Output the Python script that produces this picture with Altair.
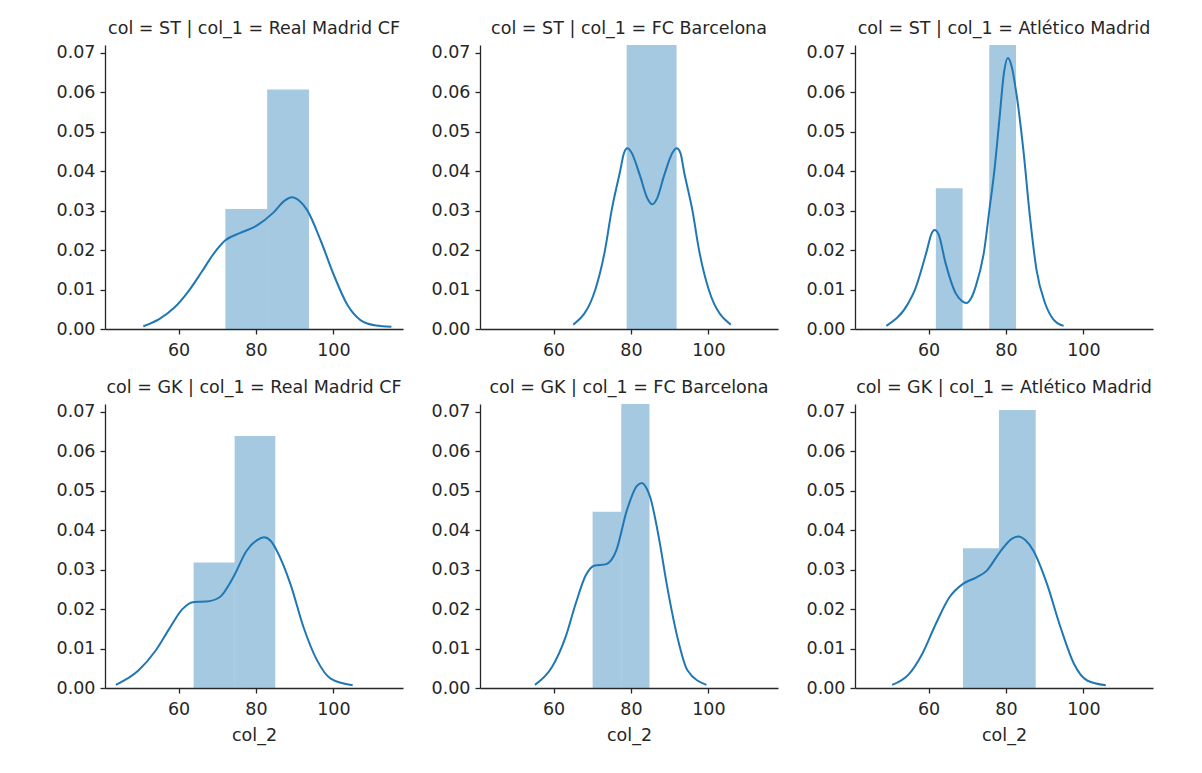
import altair as alt
import pandas as pd

# ---------------- data ----------------
POSITIONS = ["ST", "ST", "ST", "GK", "GK", "GK"]
CLUBS = ["Real Madrid CF", "FC Barcelona", "Atlético Madrid",
         "Real Madrid CF", "FC Barcelona", "Atlético Madrid"]

# histogram bin edges and densities (col_2)
st_rm_edges = [72.1, 82.9, 93.7]
st_rm_dens = [0.0304, 0.0607]
st_fcb_edges = [78.9, 91.8]
st_fcb_dens = [0.0775]
st_atm_edges = [61.9, 68.8, 75.7, 82.6]
st_atm_dens = [0.0357, 0.0, 0.1087]
gk_rm_edges = [63.9, 74.5, 85.0]
gk_rm_dens = [0.0318, 0.0639]
gk_fcb_edges = [70.1, 77.5, 84.8]
gk_fcb_dens = [0.0447, 0.0907]
gk_atm_edges = [68.9, 78.2, 87.7]
gk_atm_dens = [0.0354, 0.0705]

# KDE curve points
st_rm_kx = [50.9, 55.0, 59.0, 62.5, 66.0, 69.0, 72.1, 75.8, 80.2, 84.5, 87.5, 89.3, 91.2, 93.2, 96.7, 100.2, 103.7, 107.1, 111.0, 115.0]
st_rm_ky = [0.0007, 0.0025, 0.0055, 0.0095, 0.0145, 0.0190, 0.0225, 0.0243, 0.0262, 0.0295, 0.0326, 0.0334, 0.0325, 0.0302, 0.0225, 0.0135, 0.0060, 0.0022, 0.0009, 0.0006]
st_fcb_kx = [65.1, 70.8, 73.3, 75.0, 77.2, 78.2, 79.1, 80.1, 82.3, 84.3, 85.5, 86.7, 88.6, 90.8, 91.8, 92.8, 93.7, 95.9, 97.6, 100.1, 105.8]
st_fcb_ky = [0.0011, 0.0100, 0.0200, 0.0300, 0.0400, 0.0446, 0.0458, 0.0448, 0.0390, 0.0330, 0.0316, 0.0330, 0.0390, 0.0448, 0.0458, 0.0446, 0.0400, 0.0300, 0.0200, 0.0100, 0.0011]
st_atm_kx = [49.1, 54.8, 56.5, 59.6, 60.7, 61.6, 62.6, 64.4, 67.0, 68.6, 69.8, 71.0, 72.2, 74.4, 75.7, 77.0, 78.3, 79.5, 80.5, 81.5, 82.7, 84.5, 86.2, 87.9, 90.1, 92.3, 94.9]
st_atm_ky = [0.0008, 0.0066, 0.0100, 0.0200, 0.0240, 0.0251, 0.0240, 0.0167, 0.0091, 0.0071, 0.0066, 0.0078, 0.0108, 0.0200, 0.0300, 0.0400, 0.0530, 0.0650, 0.0687, 0.0665, 0.0597, 0.0454, 0.0285, 0.0150, 0.0066, 0.0024, 0.0008]
gk_rm_kx = [43.8, 49.7, 54.1, 57.6, 61.0, 64.1, 67.1, 70.6, 74.1, 77.6, 80.3, 82.1, 83.9, 85.4, 88.9, 92.3, 95.8, 99.3, 105.0]
gk_rm_ky = [0.0008, 0.0045, 0.0095, 0.0150, 0.0200, 0.0218, 0.0219, 0.0230, 0.0280, 0.0348, 0.0375, 0.0382, 0.0372, 0.0348, 0.0264, 0.0154, 0.0070, 0.0024, 0.0007]
gk_fcb_kx = [55.2, 59.6, 63.1, 65.7, 68.3, 70.5, 73.6, 76.2, 78.9, 81.5, 82.8, 84.1, 85.0, 87.2, 89.4, 92.0, 94.6, 99.5]
gk_fcb_ky = [0.0008, 0.0053, 0.0129, 0.0213, 0.0285, 0.0310, 0.0314, 0.0348, 0.0449, 0.0512, 0.0520, 0.0505, 0.0483, 0.0382, 0.0255, 0.0129, 0.0045, 0.0008]
gk_atm_kx = [50.6, 55.0, 58.4, 61.9, 65.4, 68.9, 72.3, 75.0, 78.4, 81.5, 83.2, 85.0, 87.1, 90.6, 94.1, 97.6, 101.0, 105.8]
gk_atm_ky = [0.0008, 0.0036, 0.0087, 0.0163, 0.0230, 0.0264, 0.0280, 0.0297, 0.0344, 0.0378, 0.0384, 0.0375, 0.0348, 0.0264, 0.0154, 0.0061, 0.0019, 0.0007]

X_TICKS = [60, 80, 100]
Y_TICKS = [0.0, 0.01, 0.02, 0.03, 0.04, 0.05, 0.06, 0.07]

EDGES = [st_rm_edges, st_fcb_edges, st_atm_edges, gk_rm_edges, gk_fcb_edges, gk_atm_edges]
DENS = [st_rm_dens, st_fcb_dens, st_atm_dens, gk_rm_dens, gk_fcb_dens, gk_atm_dens]
KX = [st_rm_kx, st_fcb_kx, st_atm_kx, gk_rm_kx, gk_fcb_kx, gk_atm_kx]
KY = [st_rm_ky, st_fcb_ky, st_atm_ky, gk_rm_ky, gk_fcb_ky, gk_atm_ky]

BLUE = "#1f77b4"
INK = "#262626"
FONT = "DejaVu Sans"
FS = 17.5

xscale = alt.Scale(domain=[41, 118], nice=False, zero=False)
yscale = alt.Scale(domain=[0, 0.072], nice=False, zero=True)


def make_panel(i, bottom):
    edges = EDGES[i]
    bar_df = pd.DataFrame({
        "x0": edges[:-1],
        "x1": edges[1:],
        "density": DENS[i],
    })
    kde_df = pd.DataFrame({"col_2": KX[i], "density": KY[i]})

    xaxis = alt.Axis(values=X_TICKS, format="d", title="col_2" if bottom else None,
                     labelPadding=7, titlePadding=9, minExtent=29,
                     maxExtent=64 if bottom else 29)
    yaxis = alt.Axis(values=Y_TICKS, format=".2f", title=None, labelPadding=5,
                     minExtent=50, maxExtent=50)

    bars = alt.Chart(bar_df).mark_rect(color=BLUE, opacity=0.4, clip=True).encode(
        x=alt.X("x0:Q", scale=xscale, axis=xaxis),
        x2="x1:Q",
        y=alt.Y("density:Q", scale=yscale, axis=yaxis),
        y2=alt.datum(0),
    )
    line = alt.Chart(kde_df).mark_line(color=BLUE, strokeWidth=2, interpolate="monotone", clip=True).encode(
        x=alt.X("col_2:Q", scale=xscale),
        y=alt.Y("density:Q", scale=yscale),
    )
    title = f"col = {POSITIONS[i]} | col_1 = {CLUBS[i]}"
    return alt.layer(bars, line).properties(width=298, height=284, title=title)


row1 = alt.hconcat(*[make_panel(i, False) for i in range(3)], spacing=27)
row2 = alt.hconcat(*[make_panel(i, True) for i in range(3, 6)], spacing=27)

chart = alt.vconcat(row1, row2, spacing=20).properties(
    padding={"left": 47, "top": 12, "right": 5, "bottom": 5}
).configure_view(stroke=None).configure_axis(
    grid=False,
    domainColor=INK, domainWidth=1.3,
    tickColor=INK, tickWidth=1.3, tickSize=5,
    labelFont=FONT, labelFontSize=FS, labelColor=INK,
    titleFont=FONT, titleFontSize=FS, titleColor=INK, titleFontWeight="normal",
).configure_title(
    font=FONT, fontSize=FS, fontWeight="normal", color=INK, anchor="middle", offset=6,
).configure_concat(spacing=20)

chart.save("out.html", embed_options={"renderer": "svg", "actions": False})
